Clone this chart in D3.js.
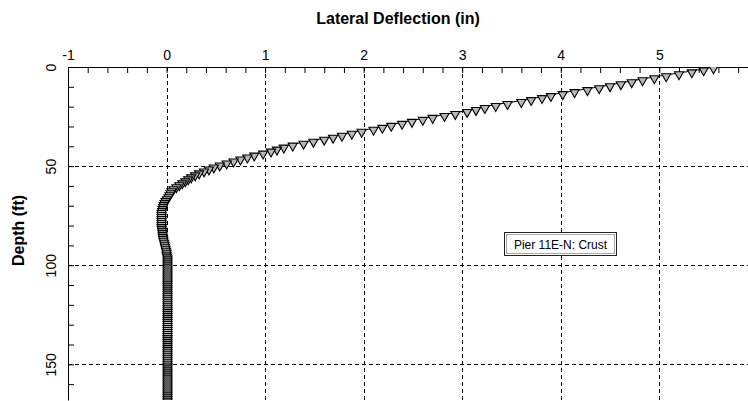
<!DOCTYPE html>
<html>
<head>
<meta charset="utf-8">
<script src="https://cdn.jsdelivr.net/npm/d3@7"></script>
<style>
  body { margin: 0; background: #fff; }
  svg { display: block; font-family: "Liberation Sans", Arial, sans-serif; }
</style>
</head>
<body>
<div id="viz"></div>
<script>
// depth of each node (ft)
const depths = [
  0, 1, 2, 3, 4, 5, 6, 7, 8, 9, 10, 11, 12, 13, 14, 15, 16, 17, 18, 19,
  20, 21, 22, 23, 24, 25, 26, 27, 28, 29, 30, 31, 32, 33, 34, 35, 36, 37, 38, 39,
  40, 41, 42, 43, 44, 45, 46, 47, 48, 49, 50, 51, 52, 53, 54, 55, 56, 57, 58, 59,
  60, 61, 62, 63, 64, 65, 66, 67, 68, 69, 70, 71, 72, 73, 74, 75, 76, 77, 78, 79,
  80, 81, 82, 83, 84, 85, 86, 87, 88, 89, 90, 91, 92, 93, 94, 95, 96, 97, 98, 99,
  100, 101, 102, 103, 104, 105, 106, 107, 108, 109, 110, 111, 112, 113, 114, 115, 116, 117, 118, 119,
  120, 121, 122, 123, 124, 125, 126, 127, 128, 129, 130, 131, 132, 133, 134, 135, 136, 137, 138, 139,
  140, 141, 142, 143, 144, 145, 146, 147, 148, 149, 150, 151, 152, 153, 154, 155, 156, 157, 158, 159,
  160, 161, 162, 163, 164, 165, 166, 167, 168
];

// lateral deflection at each node (in)
const deflections = [
  5.55, 5.45, 5.33, 5.20, 5.07, 4.95, 4.83, 4.72, 4.61, 4.50, 4.39, 4.27, 4.14, 4.02, 3.90, 3.81, 3.70, 3.60, 3.46, 3.34,
  3.23, 3.14, 3.05, 2.93, 2.82, 2.70, 2.60, 2.49, 2.39, 2.28, 2.19, 2.10, 1.98, 1.88, 1.78, 1.69, 1.60, 1.49, 1.39, 1.28,
  1.19, 1.12, 1.06, 0.98, 0.89, 0.82, 0.75, 0.68, 0.61, 0.54, 0.48, 0.43, 0.38, 0.33, 0.29, 0.25, 0.22, 0.19, 0.16, 0.13,
  0.10, 0.07, 0.05, 0.04, 0.03, 0.02, 0.005, -0.01, -0.02, -0.03, -0.035, -0.04, -0.045, -0.05, -0.05, -0.05, -0.05, -0.05, -0.05, -0.05,
  -0.05, -0.048, -0.045, -0.042, -0.04, -0.038, -0.035, -0.032, -0.025, -0.02, -0.015, -0.01, -0.005, 0.0, 0.0, 0.005, 0.01, 0.01, 0.01, 0.01,
  0.01, 0.01, 0.01, 0.01, 0.01, 0.01, 0.01, 0.01, 0.01, 0.01, 0.01, 0.01, 0.01, 0.01, 0.01, 0.01, 0.01, 0.01, 0.01, 0.01,
  0.01, 0.01, 0.01, 0.01, 0.01, 0.01, 0.01, 0.01, 0.01, 0.01, 0.01, 0.01, 0.01, 0.01, 0.01, 0.01, 0.01, 0.01, 0.01, 0.01,
  0.01, 0.01, 0.01, 0.01, 0.01, 0.01, 0.01, 0.01, 0.01, 0.01, 0.01, 0.01, 0.01, 0.01, 0.01, 0.01, 0.01, 0.01, 0.01, 0.01,
  0.01, 0.01, 0.01, 0.01, 0.01, 0.01, 0.01, 0.01, 0.01
];

const xLabels = [-1, 0, 1, 2, 3, 4, 5];
const yLabels = [0, 50, 100, 150];
const xGrid = [0, 1, 2, 3, 4, 5];
const yGrid = [50, 100, 150];
const seriesName = "Pier 11E-N: Crust";

const W = 748, H = 401;
const margin = {top: 67, right: 0, bottom: 1, left: 68};
const width = W - margin.left - margin.right;
const height = H - margin.top - margin.bottom;

const svg = d3.select("#viz").append("svg")
  .attr("width", W)
  .attr("height", H);

const g = svg.append("g")
  .attr("transform", `translate(${margin.left},${margin.top})`);

const x = d3.scaleLinear().domain([-1, 5.9]).range([0, width]);
const y = d3.scaleLinear().domain([0, 168]).range([0, height]);

g.append("clipPath").attr("id", "plot-clip")
  .append("rect").attr("width", width).attr("height", height);

// grid
g.selectAll(".vgrid")
  .data(xGrid)
  .join("line")
  .attr("x1", d => Math.round(x(d)) + 0.5)
  .attr("x2", d => Math.round(x(d)) + 0.5)
  .attr("y1", 0)
  .attr("y2", height)
  .style("stroke", "#000")
  .style("stroke-dasharray", "4,3");

g.selectAll(".hgrid")
  .data(yGrid)
  .join("line")
  .attr("y1", d => Math.round(y(d)) + 0.5)
  .attr("y2", d => Math.round(y(d)) + 0.5)
  .attr("x1", 0)
  .attr("x2", width)
  .style("stroke", "#000")
  .style("stroke-dasharray", "4,3");

const isMajor = (list, d) => list.some(v => Math.abs(v - d) < 1e-9);

// top axis, inward ticks
const xAxis = g.append("g")
  .call(d3.axisTop(x)
    .tickValues(x.ticks(34))
    .tickSizeInner(-6)
    .tickSizeOuter(0)
    .tickPadding(7)
    .tickFormat(d => isMajor(xLabels, d) ? String(Math.round(d)) : ""));

// left axis, inward ticks
const yAxis = g.append("g")
  .call(d3.axisLeft(y)
    .tickValues(y.ticks(17))
    .tickSizeInner(-6)
    .tickSizeOuter(0)
    .tickFormat(d => isMajor(yLabels, d) ? String(d) : ""));

yAxis.selectAll("text")
  .attr("x", 0)
  .attr("y", 0)
  .attr("dy", 0)
  .attr("text-anchor", "middle")
  .attr("transform", "translate(-12,0) rotate(-90)");

[xAxis, yAxis].forEach(a => {
  a.selectAll("text").style("font-size", "14px").style("fill", "#000")
    .style("font-family", "'Liberation Sans', Arial, sans-serif");
  a.selectAll("line, path").style("stroke", "#000");
});

// series
const points = depths.map((d, i) => ({depth: d, defl: deflections[i]}));

const series = g.append("g").attr("clip-path", "url(#plot-clip)");

series.append("path")
  .datum(points)
  .attr("d", d3.line().x(d => x(d.defl)).y(d => y(d.depth)))
  .style("fill", "none")
  .style("stroke", "#000")
  .style("stroke-width", 1);

const tri = d3.symbol().type(d3.symbolTriangle).size(36);

series.selectAll(".marker")
  .data(points)
  .join("path")
  .attr("class", "marker")
  .attr("d", tri)
  .attr("transform", d => `translate(${x(d.defl)},${y(d.depth) + 1.5}) rotate(180)`)
  .style("fill", "#b8b8b8")
  .style("stroke", "#000")
  .style("stroke-width", 1.1);

// legend box
const legend = svg.append("g").attr("transform", "translate(504,232)");
legend.append("rect")
  .attr("x", 0.5).attr("y", 0.5)
  .attr("width", 112).attr("height", 23)
  .style("fill", "#fff")
  .style("stroke", "#222");
legend.append("rect")
  .attr("x", 2.5).attr("y", 2.5)
  .attr("width", 108).attr("height", 19)
  .style("fill", "none")
  .style("stroke", "#555")
  .style("stroke-dasharray", "1,1");
legend.append("text")
  .attr("x", 56.5).attr("y", 16.5)
  .attr("text-anchor", "middle")
  .style("font-size", "12px")
  .text(seriesName);

// titles
svg.append("text")
  .attr("x", 398).attr("y", 24)
  .attr("text-anchor", "middle")
  .style("font-size", "16px")
  .style("font-weight", "bold")
  .text("Lateral Deflection (in)");

svg.append("text")
  .attr("transform", `translate(24,${margin.top + height / 2 - 3}) rotate(-90)`)
  .attr("text-anchor", "middle")
  .style("font-size", "16px")
  .style("font-weight", "bold")
  .text("Depth (ft)");
</script>
</body>
</html>
